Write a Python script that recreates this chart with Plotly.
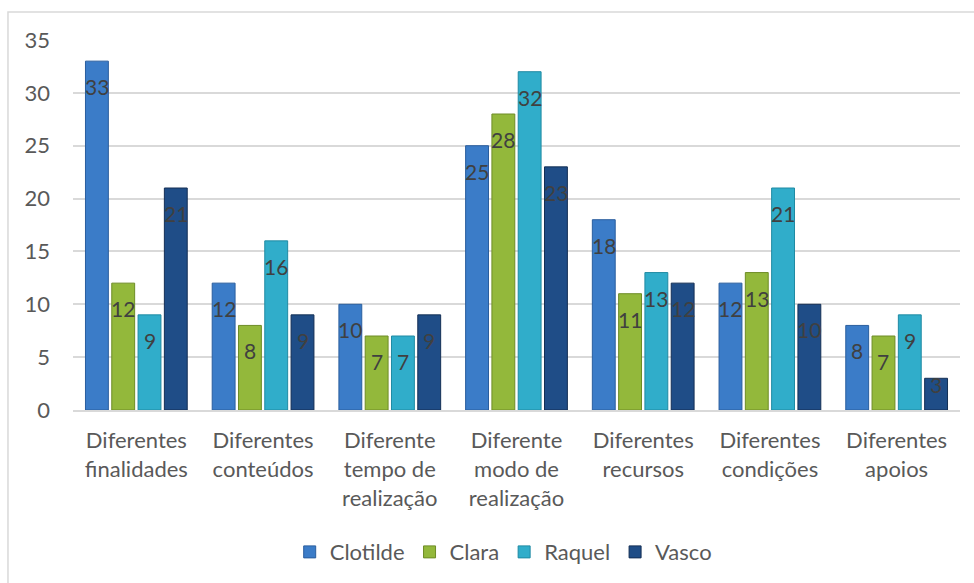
import plotly.graph_objects as go

categories = ["Diferentes<br>finalidades", "Diferentes<br>conteúdos", "Diferente<br>tempo de<br>realização",
              "Diferente<br>modo de<br>realização", "Diferentes<br>recursos", "Diferentes<br>condições",
              "Diferentes<br>apoios"]
series_names = ["Clotilde", "Clara", "Raquel", "Vasco"]
clotilde = [33, 12, 10, 25, 18, 12, 8]
clara = [12, 8, 7, 28, 11, 13, 7]
raquel = [9, 16, 7, 32, 13, 21, 9]
vasco = [21, 9, 9, 23, 12, 10, 3]
y_ticks = [0, 5, 10, 15, 20, 25, 30, 35]

values = [clotilde, clara, raquel, vasco]
colors = ["#3B7CC8", "#93B83B", "#30ADCA", "#1F4D87"]
edges = ["#2A5E9E", "#6E8C26", "#1F8AA3", "#142F55"]

W, H = 974, 583
ML, MR, MT, MB = 73, 14, 40, 173
plot_w = W - ML - MR
plot_h = H - MT - MB
y_max = 35
bargap, groupgap = 0.17, 0.13
slot = plot_w / len(categories) * (1 - bargap) / len(series_names)

fig = go.Figure()
annotations = []
for i, (name, vals, c, e) in enumerate(zip(series_names, values, colors, edges)):
    fig.add_trace(go.Bar(
        x=categories, y=vals, name=name,
        marker=dict(color=c, line=dict(color=e, width=1)),
    ))
    shift = (i - (len(series_names) - 1) / 2) * slot
    for cat, v in zip(categories, vals):
        bar_px = v * plot_h / y_max
        off = min(11, bar_px - 40)
        annotations.append(dict(
            x=cat, y=v, xref="x", yref="y", text=str(v), showarrow=False,
            xanchor="center", yanchor="top", xshift=shift, yshift=-off,
            font=dict(family="Lato, sans-serif", size=21, color="#404040"),
        ))

fig.update_layout(
    width=W, height=H,
    margin=dict(l=ML, r=MR, t=MT, b=MB, autoexpand=False),
    paper_bgcolor="white", plot_bgcolor="white",
    barmode="group", bargap=bargap, bargroupgap=groupgap,
    font=dict(family="Lato, sans-serif", size=22, color="#595959"),
    showlegend=True,
    legend=dict(orientation="h", x=0.485, xanchor="center", y=-0.384, yanchor="middle",
                font=dict(size=22, color="#595959"), itemwidth=30, traceorder="normal"),
    xaxis=dict(showgrid=False, showline=True, linecolor="#D9D9D9", linewidth=2, automargin=False,
               tickfont=dict(size=22, color="#595959"), ticks="", ticklabelstandoff=10),
    yaxis=dict(range=[0, y_max], tickvals=y_ticks, showgrid=True, gridcolor="#D9D9D9", gridwidth=1.5,
               zeroline=False, showline=False, ticks="", ticklabelstandoff=22, automargin=False,
               tickfont=dict(size=22, color="#595959")),
    annotations=annotations,
    shapes=[dict(type="rect", xref="paper", yref="paper", x0=-0.0733, x1=1.05, y0=-0.6, y1=1.0757,
                 line=dict(color="#D9D9D9", width=1.5), layer="below")],
)

fig.write_html("out.html")
